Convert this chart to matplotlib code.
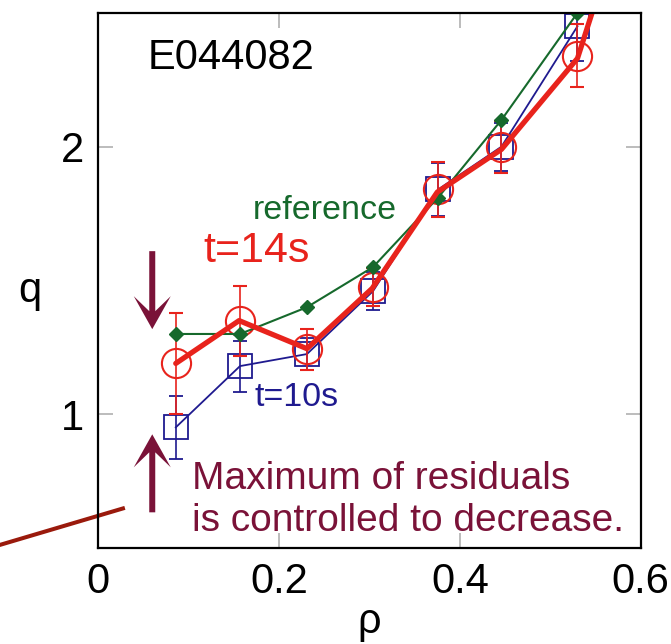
import matplotlib.pyplot as plt
from matplotlib.patches import Polygon
from matplotlib.transforms import ScaledTranslation

plt.rcParams['font.family'] = ['Liberation Sans', 'DejaVu Sans']

# measured q profiles
rho = [0.086, 0.157, 0.231, 0.304, 0.376, 0.446, 0.530]
q_ref = [1.30, 1.30, 1.40, 1.55, 1.81, 2.10, 2.50]
q_10s = [0.951, 1.18, 1.225, 1.46, 1.84, 2.00, 2.45]
err_10s = [0.118, 0.095, 0.06, 0.07, 0.10, 0.09, 0.13]
q_14s = [1.19, 1.348, 1.243, 1.476, 1.84, 2.00, 2.34]
err_14s = [0.19, 0.13, 0.077, 0.07, 0.103, 0.097, 0.118]

# thick reconstructed profile at t=14s
rho_fit = [0.086, 0.156, 0.231, 0.303, 0.375, 0.446, 0.530, 0.548]
q_fit = [1.19, 1.35, 1.245, 1.47, 1.83, 1.99, 2.33, 2.52]

RED = '#e8231c'
BLUE = '#1f1a8f'
GREEN = '#16692c'
MAROON = '#7a1238'

fig = plt.figure(figsize=(6.71, 6.44), dpi=100)
ax = fig.add_axes([0.146, 0.149, 0.809, 0.831])

ax.errorbar(rho, q_10s, yerr=err_10s, color=BLUE, lw=1.3, marker='s',
            ms=17, mfc='none', mec=BLUE, mew=1.3, capsize=5, elinewidth=1.2,
            zorder=2)
ax.errorbar(rho, q_14s, yerr=err_14s, color=RED, lw=0, marker='o',
            ms=21, mfc='none', mec=RED, mew=1.5, capsize=5, elinewidth=1.2,
            zorder=3)
ax.plot(rho, q_ref, color=GREEN, lw=1.5, marker='D', ms=7, zorder=4)
ax.plot(rho_fit, q_fit, color=RED, lw=3.8, zorder=5,
        solid_capstyle='round')

ax.set_xlim(0, 0.6)
ax.set_ylim(0.5, 2.5)
ax.set_xticks([0, 0.2, 0.4, 0.6])
ax.set_xticklabels(['0', '0.2', '0.4', '0.6'])
ax.set_yticks([1, 2])
ax.set_yticklabels(['1', '2'])
ax.tick_params(direction='in', length=11, width=1.2, color='#b0b0b0',
               top=True, right=True, labelsize=30, pad=10)
for s in ax.spines.values():
    s.set_linewidth(1.6)
    s.set_zorder(6)

ax.set_xlabel('ρ', fontsize=30, labelpad=0)
ax.set_ylabel('q', fontsize=30, rotation=0, va='center', ha='center')
ax.yaxis.set_label_coords(-0.125, 0.48)

ax.text(0.055, 2.333, 'E044082', fontsize=30, va='center')
ax.text(0.171, 1.76, 'reference', fontsize=24.5, color=GREEN, va='center')
ax.text(0.116, 1.61, 't=14s', fontsize=31, color=RED, va='center')
ax.text(0.173, 1.064, 't=10s', fontsize=24.5, color=BLUE, va='center')
ax.text(0.104, 0.757, 'Maximum of residuals', fontsize=28, color=MAROON,
        va='center')
ax.text(0.104, 0.60, 'is controlled to decrease.', fontsize=28,
        color=MAROON, va='center')


# stealth-style arrows, shape in inches around the tip
def arrow(x_tip, y_tip, direction):
    shape = [(0, 0), (0.185, 0.33), (0.03, 0.18), (0.03, 0.78),
             (-0.03, 0.78), (-0.03, 0.18), (-0.185, 0.33)]
    pts = [(px, -direction * py) for px, py in shape]
    tr = fig.dpi_scale_trans + ScaledTranslation(x_tip, y_tip, ax.transData)
    ax.add_patch(Polygon(pts, closed=True, transform=tr, color=MAROON,
                         lw=0, zorder=6))


arrow(0.06, 1.318, -1)
arrow(0.06, 0.925, 1)
ax.plot([-0.15, 0.0276], [0.47, 0.648], color='#9a1a0c', lw=2.9,
        clip_on=False, zorder=6)

fig.savefig('out.png', dpi=100)
